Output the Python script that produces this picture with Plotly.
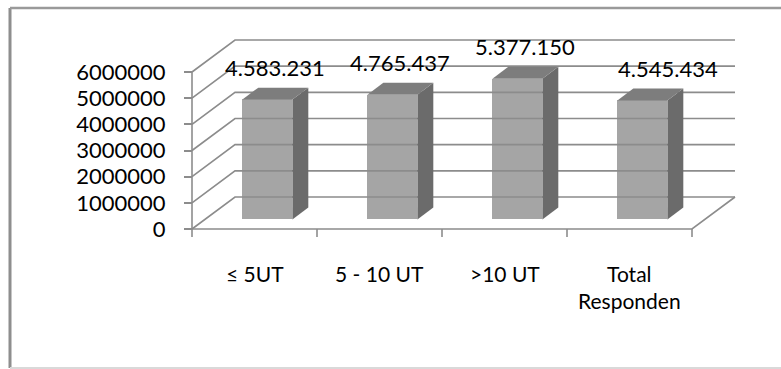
import plotly.graph_objects as go

# ---- data -------------------------------------------------------------
categories = ["≤ 5UT", "5 - 10 UT", ">10 UT", "Total<br>Responden"]
values = [4583231, 4765437, 5377150, 4545434]
y_ticks = [0, 1000000, 2000000, 3000000, 4000000, 5000000, 6000000]
y_tick_labels = [str(v) for v in y_ticks]
value_labels = [f"{v:,}".replace(",", ".") for v in values]

# ---- geometry of the pseudo-3D frame ----------------------------------
W, H = 781, 369
ORIGIN_PX = (192, 229)          # front-left floor corner in the page
CAT_PX = 125                    # width of one category slot
UNIT_PX = 157 / 6000000         # pixels per value unit
DEPTH_PX = (43, -32)            # floor depth vector in pixels

DU = DEPTH_PX[0] / CAT_PX       # depth vector in data units
DV = -DEPTH_PX[1] / UNIT_PX
BAR_T0, BAR_DEPTH, BAR_W = 0.30, 0.37, 0.40

n = len(categories)
x_range = [-ORIGIN_PX[0] / CAT_PX, (W - ORIGIN_PX[0]) / CAT_PX]
y_range = [-(H - ORIGIN_PX[1]) / UNIT_PX, ORIGIN_PX[1] / UNIT_PX]

GRID = "#8c8c8c"
FONT = "Lato, 'Open Sans', sans-serif"

fig = go.Figure()

# walls: gridlines on the left wall and the back wall
gx, gy = [], []
for v in y_ticks:
    gx += [0, DU, n + DU, None]
    gy += [v, v + DV, v + DV, None]
# floor outline
gx += [0, n, n + DU, None]
gy += [0, 0, DV, None]
# front value axis
gx += [0, 0, None]
gy += [0, y_ticks[-1], None]
# category tick marks
tick_len = 8 / UNIT_PX
for i in range(n + 1):
    gx += [i, i, None]
    gy += [0, -tick_len, None]
fig.add_trace(go.Scatter(x=gx, y=gy, mode="lines",
                         line=dict(color=GRID, width=1.6),
                         hoverinfo="skip", showlegend=False))

# bar front faces
front_x = [i + 0.5 + BAR_T0 * DU for i in range(n)]
base = BAR_T0 * DV
fig.add_trace(go.Bar(x=front_x, y=values, base=base, width=BAR_W,
                     marker=dict(color="#a5a5a5", line=dict(width=0)),
                     hoverinfo="skip", showlegend=False))

# side and top faces
ddu, ddv = BAR_DEPTH * DU, BAR_DEPTH * DV
for cx, v in zip(front_x, values):
    xl, xr = cx - BAR_W / 2, cx + BAR_W / 2
    top = base + v
    fig.add_trace(go.Scatter(
        x=[xr, xr, xr + ddu, xr + ddu, xr],
        y=[base, top, top + ddv, base + ddv, base],
        fill="toself", fillcolor="#6b6b6b", mode="lines",
        line=dict(width=0, color="#6b6b6b"),
        hoverinfo="skip", showlegend=False))
    fig.add_trace(go.Scatter(
        x=[xl, xr, xr + ddu, xl + ddu, xl],
        y=[top, top, top + ddv, top + ddv, top],
        fill="toself", fillcolor="#7d7d7d", mode="lines",
        line=dict(width=0, color="#7d7d7d"),
        hoverinfo="skip", showlegend=False))

annotations = []
# value labels above the bars (the last one nudged right, clear of its neighbour)
for k, (cx, v, lab) in enumerate(zip(front_x, values, value_labels)):
    annotations.append(dict(
        x=cx + ddu / 2, y=base + v + ddv, xref="x", yref="y",
        text=lab, showarrow=False, yanchor="bottom", yshift=5,
        xshift=18 if k == n - 1 else 0,
        font=dict(family=FONT, size=22, color="#000000")))
# category labels under the floor
for i, cat in enumerate(categories):
    annotations.append(dict(
        x=i + 0.5, y=0, xref="x", yref="y", text=cat, showarrow=False,
        yanchor="top", yshift=-30,
        font=dict(family=FONT, size=21, color="#000000")))

# chart-area border
shapes = [
    dict(type="line", xref="paper", yref="paper",
         x0=10 / W, x1=10 / W, y0=1 - 8 / H, y1=1 - 368 / H,
         line=dict(color="#8e8e8e", width=3)),
    dict(type="line", xref="paper", yref="paper",
         x0=10 / W, x1=1.02, y0=1 - 8 / H, y1=1 - 8 / H,
         line=dict(color="#9a9a9a", width=2.5)),
    dict(type="line", xref="paper", yref="paper",
         x0=10 / W, x1=1.02, y0=1 - 368 / H, y1=1 - 368 / H,
         line=dict(color="#d9d9d9", width=2)),
]

fig.update_layout(
    width=W, height=H, margin=dict(l=0, r=0, t=0, b=0),
    paper_bgcolor="white", plot_bgcolor="rgba(0,0,0,0)",
    showlegend=False, bargap=0,
    xaxis=dict(range=x_range, domain=[0, 1], visible=False, fixedrange=True),
    yaxis=dict(range=y_range, domain=[0, 1], anchor="free",
               position=ORIGIN_PX[0] / W, tickvals=y_ticks,
               ticktext=y_tick_labels, ticks="outside", ticklen=8,
               tickcolor=GRID, tickwidth=1.6, ticklabelstandoff=14,
               showgrid=False, zeroline=False, showline=False,
               tickfont=dict(family=FONT, size=22, color="#000000"),
               fixedrange=True),
    annotations=annotations, shapes=shapes,
)

fig.write_html("out.html")
